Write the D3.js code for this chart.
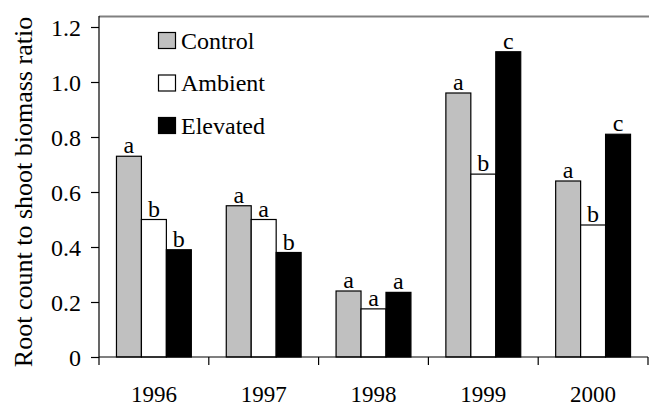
<!DOCTYPE html>
<html>
<head>
<meta charset="utf-8">
<script src="https://cdn.jsdelivr.net/npm/d3@7"></script>
<style>
  body { margin: 0; background: #fff; }
</style>
</head>
<body>
<svg id="chart" width="649" height="408"></svg>
<script>
var years = ['1996', '1997', '1998', '1999', '2000'];
var series = ['Control', 'Ambient', 'Elevated'];
var control = [0.73, 0.55, 0.24, 0.96, 0.64];
var ambient = [0.50, 0.50, 0.175, 0.665, 0.48];
var elevated = [0.39, 0.38, 0.235, 1.11, 0.81];
var letters = [
  ['a', 'b', 'b'],
  ['a', 'a', 'b'],
  ['a', 'a', 'a'],
  ['a', 'b', 'c'],
  ['a', 'b', 'c']
];
var yTicks = [0, 0.2, 0.4, 0.6, 0.8, 1.0, 1.2];
var fills = ['#c0c0c0', '#ffffff', '#000000'];
var serif = "'Liberation Serif', 'Times New Roman', serif";

function drawChart() {
  var svg = d3.select('#chart');
  var left = 99, right = 648, top = 16, bottom = 357;

  var x = d3.scaleBand().domain(years).range([left, right]).paddingInner(0).paddingOuter(0);
  var xs = d3.scaleBand().domain(series).range([0, x.bandwidth()]).paddingInner(0).paddingOuter(0.7);
  var y = d3.scaleLinear().domain([0, 1.24]).range([bottom, top]);

  var rows = years.map(function(yr, i) {
    return { year: yr, vals: [control[i], ambient[i], elevated[i]], letters: letters[i] };
  });

  // frame top line
  svg.append('line')
    .attr('x1', left).attr('x2', 649)
    .attr('y1', top + 0.5).attr('y2', top + 0.5)
    .attr('stroke', '#808080').attr('stroke-width', 2);

  var groups = svg.selectAll('g.year')
    .data(rows)
    .enter()
    .append('g')
    .attr('class', 'year')
    .attr('transform', function(d) { return 'translate(' + x(d.year) + ',0)'; });

  groups.selectAll('rect')
    .data(function(d) { return d.vals.map(function(v, j) { return { s: series[j], v: v, j: j }; }); })
    .enter()
    .append('rect')
    .attr('x', function(d) { return xs(d.s); })
    .attr('width', xs.bandwidth())
    .attr('y', function(d) { return y(d.v); })
    .attr('height', function(d) { return bottom - y(d.v); })
    .attr('fill', function(d) { return fills[d.j]; })
    .attr('stroke', '#000')
    .attr('stroke-width', 1.2);

  groups.selectAll('text.sig')
    .data(function(d) { return d.vals.map(function(v, j) { return { s: series[j], v: v, l: d.letters[j] }; }); })
    .enter()
    .append('text')
    .attr('class', 'sig')
    .attr('x', function(d) { return xs(d.s) + xs.bandwidth() / 2; })
    .attr('y', function(d) { return y(d.v) - 3; })
    .attr('text-anchor', 'middle')
    .style('font-family', serif)
    .style('font-size', '24px')
    .text(function(d) { return d.l; });

  // y axis
  var yAxis = d3.axisLeft(y).tickValues(yTicks).tickSize(8).tickPadding(10)
    .tickFormat(function(d) { return d === 0 ? '0' : d3.format('.1f')(d); });
  var gy = svg.append('g').attr('transform', 'translate(' + left + ',0)').call(yAxis);
  gy.select('.domain').remove();
  gy.append('line').attr('x1', 0).attr('x2', 0).attr('y1', top).attr('y2', bottom)
    .attr('stroke', '#000').attr('stroke-width', 1.2);
  gy.selectAll('.tick line').attr('stroke', '#000').attr('stroke-width', 1.2);
  gy.selectAll('.tick text')
    .style('font-family', serif)
    .style('font-size', '24px')
    .attr('fill', '#000')
    .attr('dy', '0.34em');

  // x axis: ticks at category boundaries
  var xAxisLine = svg.append('g');
  xAxisLine.append('line').attr('x1', left).attr('x2', right).attr('y1', bottom).attr('y2', bottom)
    .attr('stroke', '#000').attr('stroke-width', 1.2);
  var bounds = years.map(function(yr) { return x(yr); }).concat([right]);
  xAxisLine.selectAll('line.b')
    .data(bounds)
    .enter()
    .append('line')
    .attr('class', 'b')
    .attr('x1', function(d) { return d; }).attr('x2', function(d) { return d; })
    .attr('y1', bottom).attr('y2', bottom + 8)
    .attr('stroke', '#000').attr('stroke-width', 1.2);
  xAxisLine.selectAll('text')
    .data(years)
    .enter()
    .append('text')
    .attr('x', function(d) { return x(d) + x.bandwidth() / 2; })
    .attr('y', 401.5)
    .attr('text-anchor', 'middle')
    .style('font-family', serif)
    .style('font-size', '23px')
    .text(function(d) { return d; });

  // y title
  svg.append('text')
    .attr('transform', 'translate(32,192) rotate(-90)')
    .attr('text-anchor', 'middle')
    .style('font-family', serif)
    .style('font-size', '26px')
    .text('Root count to shoot biomass ratio');

  // legend
  var legend = svg.append('g').attr('transform', 'translate(158,32)');
  var items = legend.selectAll('g')
    .data(series)
    .enter()
    .append('g')
    .attr('transform', function(d, i) { return 'translate(0,' + (i * 42.5) + ')'; });
  items.append('rect')
    .attr('x', 0.5).attr('y', 0.5).attr('width', 17).attr('height', 16)
    .attr('fill', function(d, i) { return fills[i]; })
    .attr('stroke', '#000').attr('stroke-width', 1.2);
  items.append('text')
    .attr('x', 23).attr('y', 16.5)
    .style('font-family', serif)
    .style('font-size', '24px')
    .text(function(d) { return d; });
}

drawChart();
</script>
</body>
</html>
